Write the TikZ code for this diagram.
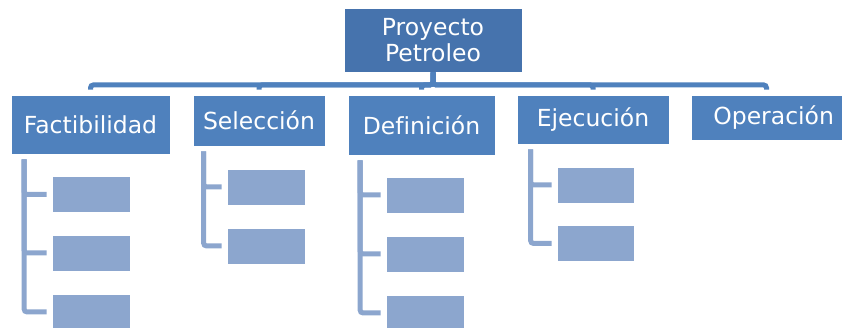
\documentclass[tikz,border=0pt]{standalone}
\usepackage{fontspec}
\setmainfont[Ligatures=NoCommon]{DejaVu Sans}
\usetikzlibrary{calc}
\definecolor{topblue}{HTML}{4673AD}
\definecolor{midblue}{HTML}{4F81BD}
\definecolor{subblue}{HTML}{8CA6CE}
\begin{document}
\begin{tikzpicture}[x=1pt,y=-1pt,
  topbox/.style={fill=topblue,draw=white,line width=0.8pt,text=white,inner sep=0pt,align=center,
    font=\fontsize{23.5}{26}\selectfont},
  midbox/.style={fill=midblue,draw=white,line width=0.8pt,text=white,inner sep=0pt,
    font=\fontsize{23.5}{26}\selectfont},
  subbox/.style={fill=subblue,draw=white,line width=0.8pt,inner sep=0pt,minimum width=78pt,minimum height=36pt},
  busline/.style={draw=midblue,line width=5pt,rounded corners=3pt},
  subline/.style={draw=subblue,line width=5pt,rounded corners=3pt}]
\useasboundingbox (0,0) rectangle (846,328);
\clip (0,0) rectangle (846,328);
% top
\node[topbox,minimum width=178pt,minimum height=64pt] (top) at (433,40) {Proyecto\\Petroleo};
% children
\node[midbox,minimum width=159pt,minimum height=59pt] (fact) at (90.5,124.5) {Factibilidad};
\node[midbox,minimum width=132pt,minimum height=51pt] (sel) at (259,120.5) {Selección};
\node[midbox,minimum width=147pt,minimum height=60pt] (def) at (421.5,125) {Definición};
\node[midbox,minimum width=152pt,minimum height=49pt] (eje) at (593,119.5) {Ejecución};
\node[midbox,minimum height=45pt,text width=135pt,inner xsep=8pt,align=right] (ope) at (766.5,117.5) {Operación};
% sub boxes
\node[subbox] (f1) at (91,194.5) {};
\node[subbox] (f2) at (91,253) {};
\node[subbox] (f3) at (91,312) {};
\node[subbox] (s1) at (266,187) {};
\node[subbox] (s2) at (266,246) {};
\node[subbox] (d1) at (425,195) {};
\node[subbox] (d2) at (425,254) {};
\node[subbox] (d3) at (425,313) {};
\node[subbox,minimum width=77pt] (e1) at (595.5,185) {};
\node[subbox,minimum width=77pt] (e2) at (595.5,243.5) {};
% bus connectors
\coordinate (bus) at ($(top.south)+(0,12.5)$);
\foreach \c in {fact,sel,def,eje,ope}{
  \draw[busline] (top.south) -- (bus) -| ($(\c.north)+(0,-5)$);
}
% sub connectors
\foreach \s in {f1,f2,f3}{
  \draw[subline] ($(fact.south west)+(13.5,5)$) |- ($(\s.west)+(-5,0)$);
}
\foreach \s in {s1,s2}{
  \draw[subline] ($(sel.south west)+(11,5)$) |- ($(\s.west)+(-5,0)$);
}
\foreach \s in {d1,d2,d3}{
  \draw[subline] ($(def.south west)+(12.5,5)$) |- ($(\s.west)+(-5,0)$);
}
\foreach \s in {e1,e2}{
  \draw[subline] ($(eje.south west)+(14,5)$) |- ($(\s.west)+(-5,0)$);
}
\end{tikzpicture}
\end{document}
